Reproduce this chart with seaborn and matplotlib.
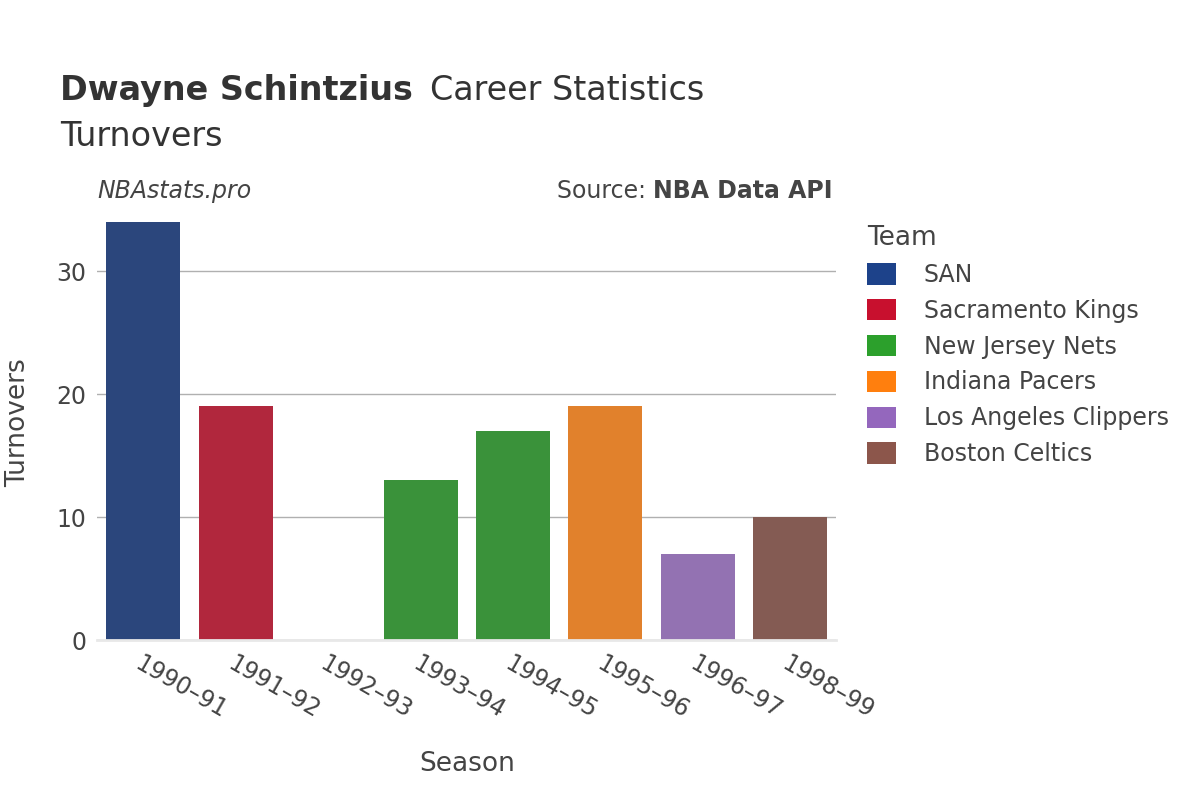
import matplotlib
matplotlib.use("Agg")
import matplotlib.pyplot as plt
import pandas as pd
import seaborn as sns
from matplotlib.patches import Patch

seasons = ["1990–91", "1991–92", "1992–93", "1993–94", "1994–95", "1995–96", "1996–97", "1998–99"]
teams = ["SAN", "Sacramento Kings", "Sacramento Kings", "New Jersey Nets", "New Jersey Nets",
         "Indiana Pacers", "Los Angeles Clippers", "Boston Celtics"]
turnovers = [34, 19, 0, 13, 17, 19, 7, 10]

team_order = ["SAN", "Sacramento Kings", "New Jersey Nets", "Indiana Pacers",
              "Los Angeles Clippers", "Boston Celtics"]
team_colors = ["#1d428a", "#c8102e", "#2ca02c", "#ff7f0e", "#9467bd", "#8c564b"]
palette = dict(zip(team_order, team_colors))

df = pd.DataFrame({"Season": seasons, "Team": teams, "Turnovers": turnovers})

plt.rcParams["font.family"] = "DejaVu Sans"
fig = plt.figure(figsize=(12, 8), dpi=100)
ax = fig.add_axes([0.081, 0.2, 0.616, 0.544])

sns.barplot(data=df, x="Season", y="Turnovers", hue="Team", palette=palette,
            hue_order=team_order, dodge=False, width=0.8, legend=False, ax=ax)

ax.set_ylim(0, 35.4)
ax.set_yticks([0, 10, 20, 30])
ax.yaxis.grid(True, color="#b0b0b0", linewidth=1)
ax.set_axisbelow(True)
for s in ["top", "right", "left"]:
    ax.spines[s].set_visible(False)
ax.spines["bottom"].set_color("#e8e8e8")
ax.spines["bottom"].set_linewidth(2)
ax.tick_params(axis="both", length=0, labelsize=17, colors="#444444", pad=8)
plt.setp(ax.get_xticklabels(), rotation=-30, ha="left", rotation_mode="anchor")
ax.set_xlabel("Season", fontsize=19, color="#444444", labelpad=20)
ax.set_ylabel("Turnovers", fontsize=19, color="#444444", labelpad=18)

fig.text(0.05, 0.875, "Dwayne Schintzius", fontsize=24, fontweight="bold", color="#333333")
fig.text(0.358, 0.875, "Career Statistics", fontsize=24, color="#333333")
fig.text(0.05, 0.818, "Turnovers", fontsize=24, color="#333333")
fig.text(0.081, 0.752, "NBAstats.pro", fontsize=17, style="italic", color="#444444")
fig.text(0.694, 0.752, "Source: ", fontsize=17, color="#444444", ha="right")
fig.text(0.694, 0.752, "NBA Data API", fontsize=17, fontweight="bold", color="#444444", ha="right")

handles = [Patch(facecolor=c, label=t) for t, c in zip(team_order, team_colors)]
leg = fig.legend(handles=handles, title="Team", loc="upper left", bbox_to_anchor=(0.705, 0.745),
                 frameon=False, fontsize=17, title_fontsize=19, handlelength=1.2,
                 handleheight=1.0, labelspacing=0.5, handletextpad=1.2)
leg._legend_box.align = "left"
for t in leg.get_texts():
    t.set_color("#444444")
leg.get_title().set_color("#444444")

fig.canvas.draw()
# place "Source: " left of bold text
r = fig.texts[-1].get_window_extent()
fig.texts[-2].set_x(r.x0 / fig.bbox.width)

fig.savefig("out.png", dpi=100)
